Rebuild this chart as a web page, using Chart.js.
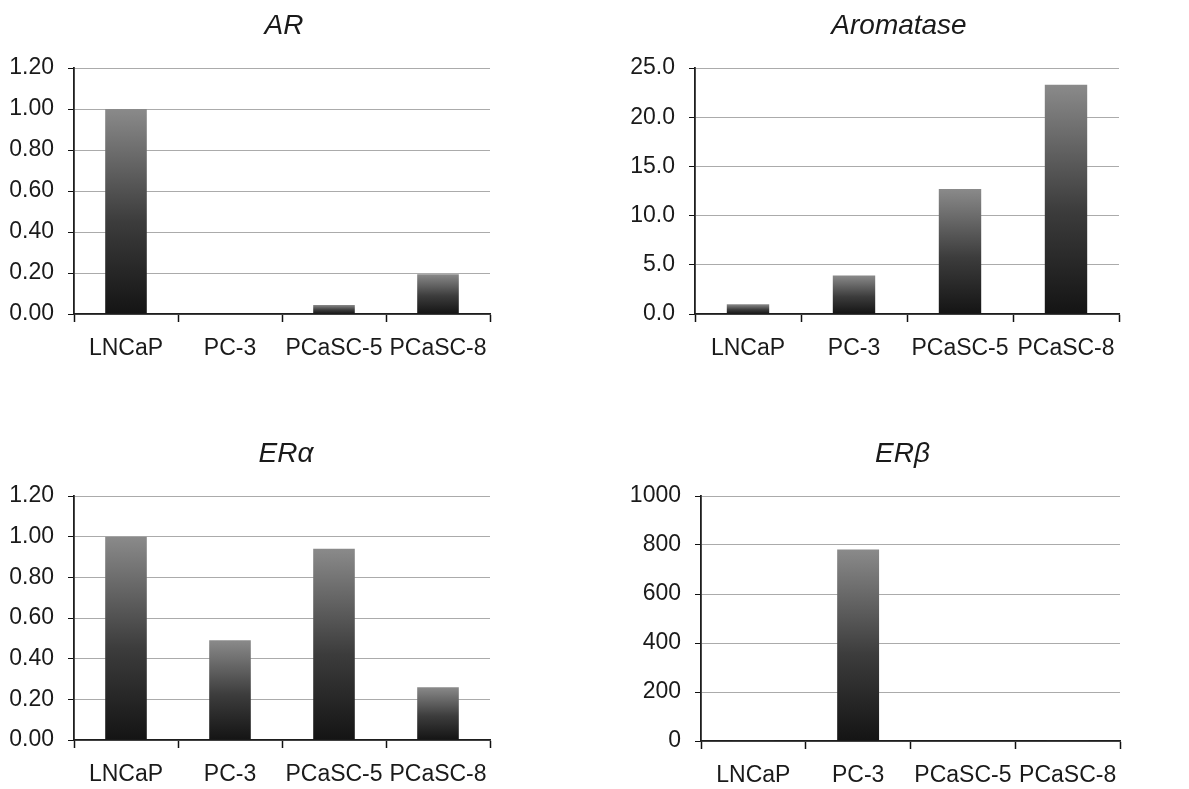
<!DOCTYPE html>
<html>
<head>
<meta charset="utf-8">
<script src="https://cdn.jsdelivr.net/npm/chart.js@4/dist/chart.umd.min.js"></script>
<style>
  html, body { margin: 0; padding: 0; background: #fff; }
  body { width: 1189px; height: 789px; position: relative; overflow: hidden; }
  canvas { position: absolute; }
</style>
</head>
<body>
<canvas id="arChart" width="600" height="400" style="left:0;top:0"></canvas>
<canvas id="aromChart" width="589" height="400" style="left:600px;top:0"></canvas>
<canvas id="eraChart" width="600" height="361" style="left:0;top:428px"></canvas>
<canvas id="erbChart" width="589" height="361" style="left:600px;top:428px"></canvas>
<script>
// cell lines on the x axis
const cellLines = ['LNCaP', 'PC-3', 'PCaSC-5', 'PCaSC-8'];

// relative expression
const arValues = [1.00, 0.003, 0.044, 0.194];
const aromataseValues = [0.98, 3.9, 12.7, 23.3];
const eraValues = [1.00, 0.49, 0.94, 0.26];
const erbValues = [1, 782, 2, 1];

// y axis ranges
const arTicks = { max: 1.2, step: 0.2, digits: 2 };
const aromTicks = { max: 25, step: 5, digits: 1 };
const eraTicks = { max: 1.2, step: 0.2, digits: 2 };
const erbTicks = { max: 1000, step: 200, digits: 0 };

const FONT = '"Liberation Sans", Arial, sans-serif';
const TEXT = '#1a1a1a';

// dark bottom -> grey top, for each bar
function barFill(ctx) {
  const chart = ctx.chart;
  if (!chart.chartArea || ctx.type !== 'data') return '#444';
  const y = chart.scales.y;
  const yTop = y.getPixelForValue(ctx.parsed.y);
  const yBase = y.getPixelForValue(0);
  if (yBase - yTop < 2) return '#333';
  const g = chart.ctx.createLinearGradient(0, yBase, 0, yTop);
  g.addColorStop(0, '#141414');
  g.addColorStop(0.45, '#3c3c3c');
  g.addColorStop(1, '#8a8a8a');
  return g;
}

// italic title over the plot, centred on the chart area (with a small nudge)
const panelTitle = {
  id: 'panelTitle',
  afterDraw(chart, args, opts) {
    const { ctx, chartArea } = chart;
    ctx.save();
    ctx.font = 'italic 28px ' + FONT;
    ctx.fillStyle = TEXT;
    ctx.textAlign = 'center';
    ctx.textBaseline = 'middle';
    ctx.fillText(opts.text, (chartArea.left + chartArea.right) / 2 + opts.dx, 26);
    ctx.restore();
  }
};

function makePanel(id, title, values, ticks, box) {
  const canvas = document.getElementById(id);
  const W = canvas.width, H = canvas.height;
  return new Chart(canvas, {
    type: 'bar',
    data: {
      labels: cellLines,
      datasets: [{
        data: values,
        backgroundColor: barFill,
        borderWidth: 0,
        categoryPercentage: 1,
        barPercentage: 0.4
      }]
    },
    options: {
      responsive: false,
      animation: false,
      events: [],
      layout: { padding: { left: 0, top: 68, right: W - box.right, bottom: 0 } },
      plugins: {
        legend: { display: false },
        tooltip: { enabled: false },
        title: { display: false },
        panelTitle: { text: title, dx: box.dx }
      },
      scales: {
        x: {
          offset: true,
          grid: {
            offset: true,
            drawOnChartArea: false,
            drawTicks: true,
            tickLength: 8,
            tickColor: '#111',
            tickWidth: 1.5
          },
          border: { color: '#1e1e1e', width: 1.8 },
          ticks: {
            color: TEXT,
            padding: 13,
            maxRotation: 0,
            autoSkip: false,
            font: { family: FONT, size: 23 }
          },
          afterFit: s => { s.height = H - box.bottom; }
        },
        y: {
          min: 0,
          max: ticks.max,
          grid: {
            color: '#ababab',
            lineWidth: 1,
            tickLength: 6,
            tickColor: '#111',
            tickWidth: 1
          },
          border: { color: '#1e1e1e', width: 1.8 },
          ticks: {
            stepSize: ticks.step,
            color: TEXT,
            padding: 14,
            font: { family: FONT, size: 23 },
            callback: v => Number(v).toFixed(ticks.digits)
          },
          afterFit: s => { s.width = box.left; }
        }
      }
    },
    plugins: [panelTitle]
  });
}

makePanel('arChart', 'AR', arValues, arTicks, { left: 74, right: 490, bottom: 314, dx: 2 });
makePanel('aromChart', 'Aromatase', aromataseValues, aromTicks, { left: 95, right: 519, bottom: 314, dx: -8 });
makePanel('eraChart', 'ERα', eraValues, eraTicks, { left: 74, right: 490, bottom: 312, dx: 4 });
makePanel('erbChart', 'ERβ', erbValues, erbTicks, { left: 101, right: 520, bottom: 313, dx: -8 });
</script>
</body>
</html>
